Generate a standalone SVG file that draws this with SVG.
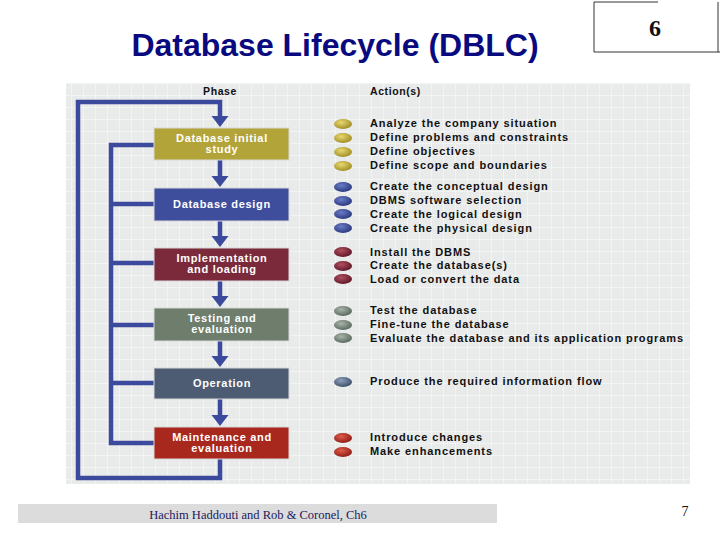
<svg xmlns="http://www.w3.org/2000/svg" width="720" height="540" viewBox="0 0 720 540">
<defs>
<style>
.lbl{font-family:"Liberation Sans",Arial,sans-serif;font-size:11px;font-weight:bold;fill:#fff;text-anchor:middle;letter-spacing:0.7px}
.act{font-family:"Liberation Sans",Arial,sans-serif;font-size:11px;font-weight:bold;fill:#111;letter-spacing:0.9px}
.hd{font-family:"Liberation Sans",Arial,sans-serif;font-size:10.5px;font-weight:bold;fill:#111;letter-spacing:0.6px}
.ln{stroke:#3b4a9c;stroke-width:4.5;fill:none}
.ah{fill:#3b4a9c}
.box{stroke:#d8d8d8;stroke-width:1}
</style>
<pattern id="grid" width="12" height="12" patternUnits="userSpaceOnUse">
<rect width="12" height="12" fill="#e9eaea"/>
<path d="M12 0V12M0 12H12" stroke="#f6f6f6" stroke-width="1.5"/>
</pattern>
<radialGradient id="gy" cx="0.4" cy="0.35" r="0.7"><stop offset="0" stop-color="#e8d870"/><stop offset="1" stop-color="#9a8a20"/></radialGradient>
<radialGradient id="gb" cx="0.4" cy="0.35" r="0.7"><stop offset="0" stop-color="#6a7cc8"/><stop offset="1" stop-color="#26357a"/></radialGradient>
<radialGradient id="gr" cx="0.4" cy="0.35" r="0.7"><stop offset="0" stop-color="#b05060"/><stop offset="1" stop-color="#5a1424"/></radialGradient>
<radialGradient id="gg" cx="0.4" cy="0.35" r="0.7"><stop offset="0" stop-color="#a8b4a8"/><stop offset="1" stop-color="#56645a"/></radialGradient>
<radialGradient id="gs" cx="0.4" cy="0.35" r="0.7"><stop offset="0" stop-color="#8ea0bc"/><stop offset="1" stop-color="#3a4a64"/></radialGradient>
<radialGradient id="gm" cx="0.4" cy="0.35" r="0.7"><stop offset="0" stop-color="#e05a4a"/><stop offset="1" stop-color="#8a1a14"/></radialGradient>
<path id="head" d="M-8.5 -11H8.5L0 0z"/>
</defs>

<rect width="720" height="540" fill="#fff"/>
<text x="335" y="56" font-family="Liberation Sans,Arial,sans-serif" font-size="32" font-weight="bold" fill="#0a0a80" text-anchor="middle">Database Lifecycle (DBLC)</text>

<g id="slide-num">
<path d="M594 52V2H658M594 52H720M718 2V52" stroke="#333" stroke-width="1" fill="none"/>
<text x="655" y="36" font-family="Liberation Serif,Times New Roman,serif" font-size="24" font-weight="bold" fill="#111" text-anchor="middle">6</text>
</g>

<rect x="66" y="83" width="624" height="401" fill="url(#grid)"/>
<text class="hd" x="220" y="95" text-anchor="middle">Phase</text>
<text class="hd" x="370" y="95">Action(s)</text>

<g id="connectors">
<path class="ln" d="M220 459V478H78V102H220V118"/>
<path class="ln" d="M154 145H111V443H154M111 204H154M111 263H154M111 325H154M111 383H154"/>
<path class="ln" d="M220 160V178M220 221V238M220 281V298M220 341V358M220 399V417"/>
<use href="#head" class="ah" x="220" y="127"/>
<use href="#head" class="ah" x="220" y="187"/>
<use href="#head" class="ah" x="220" y="247"/>
<use href="#head" class="ah" x="220" y="307"/>
<use href="#head" class="ah" x="220" y="367"/>
<use href="#head" class="ah" x="220" y="426"/>
</g>

<g id="n1"><rect class="box" x="154" y="128" width="135" height="32" fill="#b3a43a"/><text class="lbl" x="222" y="142">Database initial</text><text class="lbl" x="222" y="153">study</text></g>
<g id="n2"><rect class="box" x="154" y="188" width="135" height="33" fill="#3f4e9c"/><text class="lbl" x="222" y="208">Database design</text></g>
<g id="n3"><rect class="box" x="154" y="248" width="135" height="33" fill="#7b2a3b"/><text class="lbl" x="222" y="262">Implementation</text><text class="lbl" x="222" y="273">and loading</text></g>
<g id="n4"><rect class="box" x="154" y="308" width="135" height="33" fill="#6e7d6c"/><text class="lbl" x="222" y="322">Testing and</text><text class="lbl" x="222" y="333">evaluation</text></g>
<g id="n5"><rect class="box" x="154" y="368" width="135" height="31" fill="#4d5c72"/><text class="lbl" x="222" y="387">Operation</text></g>
<g id="n6"><rect class="box" x="154" y="427" width="135" height="32" fill="#a8281e"/><text class="lbl" x="222" y="441">Maintenance and</text><text class="lbl" x="222" y="452">evaluation</text></g>

<g id="actions">
<ellipse cx="343" cy="124" rx="9" ry="5" fill="url(#gy)"/><ellipse cx="343" cy="138" rx="9" ry="5" fill="url(#gy)"/><ellipse cx="343" cy="152" rx="9" ry="5" fill="url(#gy)"/><ellipse cx="343" cy="166" rx="9" ry="5" fill="url(#gy)"/>
<text class="act" x="370" y="127">Analyze the company situation</text>
<text class="act" x="370" y="141">Define problems and constraints</text>
<text class="act" x="370" y="155">Define objectives</text>
<text class="act" x="370" y="169">Define scope and boundaries</text>
<ellipse cx="343" cy="187" rx="9" ry="5" fill="url(#gb)"/><ellipse cx="343" cy="201" rx="9" ry="5" fill="url(#gb)"/><ellipse cx="343" cy="214" rx="9" ry="5" fill="url(#gb)"/><ellipse cx="343" cy="228" rx="9" ry="5" fill="url(#gb)"/>
<text class="act" x="370" y="190">Create the conceptual design</text>
<text class="act" x="370" y="204">DBMS software selection</text>
<text class="act" x="370" y="218">Create the logical design</text>
<text class="act" x="370" y="232">Create the physical design</text>
<ellipse cx="343" cy="252" rx="9" ry="5" fill="url(#gr)"/><ellipse cx="343" cy="266" rx="9" ry="5" fill="url(#gr)"/><ellipse cx="343" cy="279" rx="9" ry="5" fill="url(#gr)"/>
<text class="act" x="370" y="256">Install the DBMS</text>
<text class="act" x="370" y="269">Create the database(s)</text>
<text class="act" x="370" y="283">Load or convert the data</text>
<ellipse cx="343" cy="311" rx="9" ry="5" fill="url(#gg)"/><ellipse cx="343" cy="325" rx="9" ry="5" fill="url(#gg)"/><ellipse cx="343" cy="338" rx="9" ry="5" fill="url(#gg)"/>
<text class="act" x="370" y="314">Test the database</text>
<text class="act" x="370" y="328">Fine-tune the database</text>
<text class="act" x="370" y="342">Evaluate the database and its application programs</text>
<ellipse cx="343" cy="382" rx="9" ry="5" fill="url(#gs)"/>
<text class="act" x="370" y="385">Produce the required information flow</text>
<ellipse cx="343" cy="438" rx="9" ry="5" fill="url(#gm)"/><ellipse cx="343" cy="452" rx="9" ry="5" fill="url(#gm)"/>
<text class="act" x="370" y="441">Introduce changes</text>
<text class="act" x="370" y="455">Make enhancements</text>
</g>

<rect x="18" y="504" width="479" height="19" fill="#dcdcdc"/>
<text x="258" y="519" font-family="Liberation Serif,Times New Roman,serif" font-size="12.5" fill="#1a1a5c" text-anchor="middle">Hachim Haddouti and  Rob &amp; Coronel, Ch6</text>
<text x="685" y="516" font-family="Liberation Serif,Times New Roman,serif" font-size="14" fill="#111" text-anchor="middle">7</text>
</svg>
